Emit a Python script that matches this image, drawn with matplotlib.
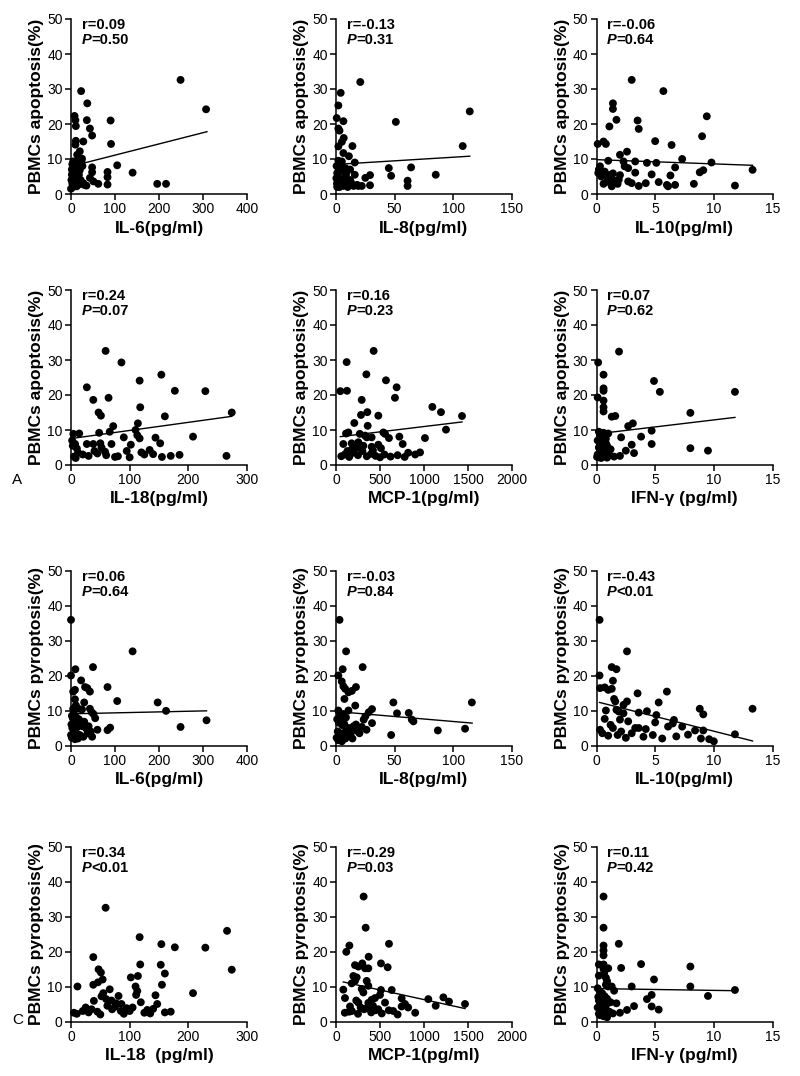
import matplotlib
matplotlib.use("Agg")
import matplotlib.pyplot as plt

plt.rcParams['font.family'] = ['Liberation Sans', 'DejaVu Sans']

# ---------------- data ----------------
# Row 1: PBMCs apoptosis vs IL-6 / IL-8 / IL-10
il6_apo_x = [249, 307, 23, 37, 8, 10, 36, 90, 11, 43, 48, 11, 10, 28, 91, 20, 14, 25, 5, 15, 24, 3, 16, 26, 48, 105, 140, 83, 83, 83, 48, 43, 51, 62, 196, 216, 2, 4, 6, 8, 12, 18, 22, 28, 1, 3, 7, 9, 13, 19, 30, 35, 2, 5, 10, 15, 0, 20]
il6_apo_y = [32.6, 24.2, 29.4, 25.9, 22.3, 21.1, 21.1, 21.0, 19.4, 18.7, 16.7, 15.2, 14.1, 15.0, 14.3, 12.2, 11.2, 10.1, 9.3, 9.3, 9.3, 8.5, 7.4, 8.0, 7.6, 8.2, 6.1, 6.3, 4.8, 2.7, 6.2, 4.6, 3.6, 2.9, 2.9, 2.9, 7.0, 6.0, 5.2, 4.5, 6.6, 5.5, 4.0, 3.1, 4.0, 3.0, 2.5, 3.5, 2.2, 2.8, 2.6, 2.4, 5.5, 2.0, 7.8, 3.6, 1.5, 6.8]
il8_apo_x = [20.7, 4, 2, 0.6, 6.3, 51, 2, 3, 114, 108, 6.6, 5, 2, 14, 6.3, 11, 2, 5, 16, 45, 64, 47, 85, 61, 61, 8, 12, 3.5, 8.5, 16, 25, 29, 29, 22, 19, 2, 6, 10, 15, 1, 3, 1.5, 4, 7, 9, 12, 0.5, 1, 2.5, 5, 3, 10, 0.8, 7, 18, 0.3, 4.5, 13]
il8_apo_y = [32.0, 28.9, 25.3, 21.7, 20.8, 20.6, 18.7, 18.1, 23.6, 13.7, 16.0, 14.9, 13.6, 13.7, 11.7, 10.8, 9.5, 9.3, 9.0, 7.4, 7.6, 5.2, 5.5, 3.8, 2.3, 7.4, 7.0, 6.5, 5.5, 5.5, 4.6, 5.4, 2.5, 2.3, 2.3, 2.6, 2.3, 2.0, 2.3, 2.0, 3.5, 5.0, 4.2, 3.0, 6.5, 4.0, 8.0, 6.0, 7.6, 6.8, 2.0, 2.3, 3.0, 4.5, 2.6, 4.5, 8.2, 3.2]
il10_apo_x = [3.0, 5.7, 1.4, 1.4, 1.7, 3.5, 3.6, 9.4, 1.1, 9.0, 5.0, 0.1, 0.6, 0.8, 6.4, 2.6, 2.0, 1.0, 3.3, 4.3, 5.1, 7.3, 9.8, 2.3, 2.4, 2.7, 0.3, 6.7, 13.3, 9.1, 8.8, 3.3, 4.7, 6.3, 0.7, 1.1, 1.4, 0.15, 0.4, 1.0, 1.4, 1.9, 2.0, 0.6, 1.3, 1.8, 2.7, 3.0, 3.6, 4.2, 5.3, 6.0, 6.1, 6.7, 8.3, 11.8, 0.2, 0.9]
il10_apo_y = [32.6, 29.4, 25.9, 24.3, 21.2, 21.0, 18.6, 22.2, 19.3, 16.5, 15.1, 14.3, 15.0, 14.3, 14.0, 12.1, 11.2, 9.5, 9.3, 8.9, 8.9, 10.0, 9.0, 9.3, 7.9, 7.4, 7.9, 7.6, 6.9, 6.8, 6.2, 6.1, 5.6, 5.3, 6.4, 5.4, 5.9, 6.0, 5.0, 4.6, 4.1, 4.1, 5.4, 2.9, 2.2, 2.9, 3.6, 3.1, 2.3, 3.1, 3.4, 2.6, 2.2, 2.6, 2.9, 2.4, 7.0, 3.5]

# Row 2: PBMCs apoptosis vs IL-18 / MCP-1 / IFN-γ
il18_apo_x = [59, 86, 154, 117, 27, 177, 229, 38, 64, 118, 47, 51, 274, 160, 72, 114, 66, 110, 113, 117, 48, 4, 14, 90, 144, 208, 7, 10, 27, 38, 50, 52, 69, 102, 152, 134, 265, 5, 20, 30, 60, 80, 100, 125, 155, 170, 2, 12, 40, 45, 58, 75, 95, 120, 140, 8, 3, 185]
il18_apo_y = [32.6, 29.3, 25.8, 24.1, 22.2, 21.2, 21.1, 18.6, 19.2, 16.5, 15.0, 14.1, 15.0, 13.9, 11.1, 11.9, 9.5, 10.0, 8.5, 7.6, 9.2, 8.9, 9.0, 7.9, 7.8, 8.1, 6.0, 4.7, 6.0, 6.0, 6.2, 5.0, 6.0, 5.8, 6.2, 4.3, 2.6, 2.4, 3.0, 2.6, 2.8, 2.5, 2.2, 3.0, 2.3, 2.6, 7.0, 3.5, 4.0, 3.3, 3.8, 2.3, 4.0, 3.6, 3.1, 2.0, 5.5, 2.9]
mcp_apo_x = [428, 121, 345, 568, 689, 49, 125, 670, 292, 1095, 1193, 356, 284, 481, 1432, 208, 360, 1250, 140, 114, 538, 557, 270, 330, 350, 405, 602, 720, 1011, 758, 83, 178, 254, 311, 405, 481, 511, 955, 60, 100, 150, 200, 250, 300, 350, 400, 450, 500, 550, 620, 700, 780, 820, 180, 240, 420, 130, 900]
mcp_apo_y = [32.6, 29.4, 25.9, 24.2, 22.2, 21.1, 21.2, 19.2, 18.6, 16.6, 15.1, 15.1, 14.3, 14.1, 14.0, 12.0, 11.2, 10.1, 9.3, 9.0, 9.3, 8.9, 8.9, 8.4, 7.9, 7.9, 7.7, 8.1, 7.7, 6.0, 6.0, 6.2, 6.5, 5.5, 5.2, 5.8, 4.8, 3.6, 2.5, 3.0, 2.3, 3.5, 2.8, 4.0, 2.5, 3.2, 2.6, 2.2, 3.0, 2.4, 2.8, 2.3, 3.5, 4.5, 5.0, 4.2, 4.0, 3.0]
ifn_apo_x = [1.92, 0.14, 0.6, 4.9, 0.6, 0.6, 5.4, 11.8, 0.1, 0.6, 0.6, 0.6, 8.0, 1.3, 1.6, 2.7, 3.1, 4.7, 0.2, 0.6, 1.0, 0.35, 0.8, 2.1, 3.8, 3.0, 4.7, 2.5, 3.2, 8.0, 9.5, 0.1, 0.3, 0.5, 0.7, 0.9, 0.2, 0.4, 0.6, 0.8, 1.0, 0.1, 0.3, 0.5, 0.7, 1.1, 0.2, 0.4, 0.6, 0.9, 1.5, 2.0, 0.3, 0.5, 0.8, 1.2, 0.05, 0.45]
ifn_apo_y = [32.4, 29.3, 25.8, 24.0, 21.9, 21.2, 20.9, 20.9, 19.3, 18.4, 16.5, 15.3, 14.9, 13.8, 14.0, 11.1, 11.9, 9.8, 9.5, 9.2, 9.0, 8.0, 7.5, 7.9, 8.1, 5.8, 6.0, 4.1, 3.4, 4.8, 4.1, 7.0, 6.5, 6.0, 6.8, 5.5, 5.0, 4.5, 5.2, 4.0, 3.5, 3.0, 3.8, 3.2, 2.5, 2.8, 2.2, 2.0, 2.5, 2.1, 2.4, 2.6, 8.6, 7.2, 6.2, 4.5, 2.3, 3.6]

# Row 3: PBMCs pyroptosis vs IL-6 / IL-8 / IL-10
il6_pyr_x = [0, 140, 50, 10, 0, 23, 32, 37, 83, 9, 5, 43, 9, 30, 105, 197, 216, 5, 17, 25, 43, 47, 51, 308, 249, 89, 83, 2, 4, 6, 8, 12, 15, 18, 22, 26, 30, 35, 40, 45, 1, 3, 7, 10, 14, 20, 28, 38, 48, 60, 2, 5, 9, 13, 16, 0, 11, 55]
il6_pyr_y = [35.9, 26.9, 22.4, 21.8, 20.0, 18.6, 16.7, 16.4, 16.7, 15.9, 15.4, 15.4, 13.2, 12.3, 12.7, 12.3, 9.9, 10.5, 10.5, 10.3, 10.5, 9.5, 9.0, 7.2, 5.3, 5.1, 4.4, 8.5, 7.8, 9.0, 7.2, 8.0, 6.5, 7.5, 6.0, 5.5, 6.8, 4.8, 5.5, 4.0, 6.0, 5.0, 4.5, 3.8, 5.2, 3.0, 2.5, 3.5, 2.5, 4.5, 2.2, 2.5, 1.8, 3.2, 2.0, 3.0, 11.5, 7.8]
il8_pyr_x = [3, 8.6, 22.7, 5.7, 2, 4.9, 6.3, 7.8, 17, 13.5, 10.6, 7.2, 16.4, 48.9, 115.8, 52, 62, 64.6, 66, 30.7, 27.9, 25, 23.6, 30.7, 2, 3.5, 6.3, 10.6, 86.8, 110, 47, 1, 2.5, 4, 5.5, 7, 9, 11, 13, 15, 18, 20, 1.5, 3, 4.5, 6, 8, 10, 12, 14, 0.5, 2, 3.5, 5, 17, 22, 8.5, 26]
il8_pyr_y = [35.9, 26.9, 22.4, 21.8, 20.0, 18.3, 16.9, 16.2, 16.7, 15.6, 15.2, 13.3, 11.4, 12.3, 12.3, 9.2, 9.3, 7.4, 6.9, 10.4, 9.5, 8.3, 7.4, 6.4, 10.0, 8.6, 9.0, 10.0, 4.3, 4.8, 3.0, 7.5, 6.5, 7.0, 5.8, 6.2, 4.5, 5.0, 3.8, 5.5, 4.2, 3.5, 4.0, 3.0, 2.5, 3.5, 2.0, 2.8, 3.2, 2.0, 2.2, 1.5, 1.8, 1.2, 6.0, 5.3, 8.0, 4.5]
il10_pyr_x = [0.26, 2.6, 1.3, 1.7, 0.26, 1.4, 0.3, 0.7, 1.0, 1.3, 6.0, 3.5, 1.5, 1.6, 2.6, 5.3, 2.3, 8.8, 9.1, 13.3, 0.8, 1.7, 1.9, 2.3, 3.6, 4.3, 5.1, 5.0, 6.6, 6.5, 0.7, 2.0, 2.7, 6.1, 7.3, 1.2, 1.4, 3.3, 3.6, 4.2, 8.4, 9.1, 11.8, 0.5, 1.0, 1.8, 2.5, 3.0, 4.0, 4.8, 5.6, 6.8, 7.8, 9.6, 10.0, 0.3, 2.1, 8.9]
il10_pyr_y = [35.9, 26.9, 22.4, 21.8, 20.0, 18.5, 16.4, 16.6, 15.9, 16.2, 15.4, 14.9, 13.3, 12.6, 12.6, 12.3, 11.6, 10.5, 8.9, 10.5, 10.0, 10.2, 9.7, 9.2, 9.4, 9.8, 8.7, 6.6, 7.3, 6.3, 7.6, 7.4, 6.9, 5.4, 5.4, 5.9, 5.0, 5.0, 5.0, 4.7, 4.3, 4.3, 3.2, 3.5, 2.8, 3.0, 2.2, 3.5, 2.5, 3.0, 2.0, 2.6, 3.1, 1.8, 1.2, 4.5, 4.0, 2.0]

# Row 4: PBMCs pyroptosis vs IL-18 / MCP-1 / IFN-γ
il18_pyr_x = [59, 117, 266, 154, 177, 229, 38, 118, 153, 47, 51, 274, 160, 102, 114, 38, 46, 54, 11, 155, 66, 55, 52, 110, 113, 111, 81, 144, 208, 60, 69, 77, 86, 39, 119, 147, 5, 20, 30, 45, 70, 90, 100, 125, 135, 170, 25, 35, 62, 75, 95, 105, 130, 160, 10, 50, 85, 140]
il18_pyr_y = [32.5, 24.1, 25.9, 22.1, 21.2, 21.1, 18.4, 16.3, 16.2, 14.9, 14.0, 14.8, 13.7, 12.6, 13.0, 10.5, 11.2, 12.0, 10.0, 10.5, 9.2, 8.1, 7.2, 10.0, 8.7, 7.6, 7.3, 7.5, 8.1, 6.4, 6.0, 5.2, 5.0, 5.9, 5.5, 5.0, 2.5, 3.0, 2.6, 2.8, 3.5, 2.2, 3.0, 2.5, 2.3, 2.8, 4.0, 3.5, 4.5, 4.2, 3.8, 4.0, 3.3, 2.6, 2.2, 2.0, 3.0, 3.6]
mcp_pyr_x = [314, 337, 152, 117, 602, 371, 216, 254, 299, 330, 367, 511, 587, 197, 235, 216, 178, 349, 367, 292, 311, 83, 102, 511, 633, 500, 443, 405, 367, 746, 784, 746, 1049, 1220, 1284, 1466, 1133, 557, 254, 159, 100, 180, 250, 320, 400, 450, 520, 650, 700, 900, 280, 350, 420, 480, 600, 150, 230, 820]
mcp_pyr_y = [35.7, 26.8, 21.7, 19.9, 22.2, 18.5, 16.1, 15.7, 16.6, 15.2, 15.2, 16.6, 15.5, 13.0, 12.6, 11.6, 10.9, 11.6, 10.2, 9.3, 8.3, 9.1, 6.7, 9.0, 9.0, 7.6, 6.7, 6.2, 5.3, 6.6, 5.0, 4.3, 6.4, 6.9, 5.7, 5.0, 4.5, 5.4, 5.4, 4.3, 2.5, 3.0, 2.2, 3.5, 2.6, 3.2, 2.3, 3.0, 2.0, 2.5, 4.0, 3.8, 4.5, 3.5, 3.2, 2.8, 6.0, 4.0]
ifn_pyr_x = [0.6, 0.6, 1.9, 0.6, 0.6, 0.6, 0.2, 0.6, 1.0, 0.6, 2.1, 3.8, 8.0, 0.2, 4.9, 0.9, 0.8, 1.0, 1.3, 3.0, 8.0, 11.8, 9.5, 4.7, 4.3, 1.2, 1.7, 3.2, 4.7, 5.3, 2.6, 0.1, 0.3, 0.5, 0.7, 0.9, 0.2, 0.4, 0.6, 0.8, 0.1, 0.3, 0.5, 0.7, 1.1, 0.2, 0.4, 0.6, 0.9, 1.4, 0.3, 0.5, 0.8, 0.15, 0.45, 0.65, 2.0, 1.5]
ifn_pyr_y = [35.7, 26.8, 22.2, 21.7, 20.3, 18.9, 16.3, 16.3, 15.2, 15.0, 15.3, 16.4, 15.7, 13.1, 12.0, 11.5, 10.5, 10.0, 10.0, 10.0, 10.0, 9.0, 7.3, 7.6, 6.4, 5.5, 5.2, 4.4, 4.3, 3.4, 3.3, 9.5, 8.5, 8.0, 7.2, 6.5, 6.0, 5.5, 5.0, 4.5, 4.0, 3.5, 3.0, 2.5, 2.8, 2.2, 2.0, 1.5, 1.2, 2.3, 1.8, 3.8, 12.5, 7.0, 6.8, 13.8, 2.5, 8.8]

# Regression lines: (x_start, y_start, x_end, y_end); None = no line shown
fit_lines = [
    (0, 7.9, 309, 17.8), (0, 8.45, 114, 10.8), (0.1, 9.8, 13.3, 8.2),
    (2, 7.6, 274, 13.9), (49, 8.1, 1432, 12.3), (0.05, 8.9, 11.8, 13.6),
    (0, 9.05, 308, 9.9), (0.5, 9.7, 116, 6.4), (0.26, 12.3, 13.3, 1.3),
    None, (83, 11.3, 1466, 3.7), (0.1, 9.4, 11.8, 8.8),
]

r_texts = ["r=0.09", "r=-0.13", "r=-0.06", "r=0.24", "r=0.16", "r=0.07",
           "r=0.06", "r=-0.03", "r=-0.43", "r=0.34", "r=-0.29", "r=0.11"]
p_texts = ["=0.50", "=0.31", "=0.64", "=0.07", "=0.23", "=0.62",
           "=0.64", "=0.84", "<0.01", "<0.01", "=0.03", "=0.42"]

x_labels = ["IL-6(pg/ml)", "IL-8(pg/ml)", "IL-10(pg/ml)",
            "IL-18(pg/ml)", "MCP-1(pg/ml)", "IFN-γ (pg/ml)",
            "IL-6(pg/ml)", "IL-8(pg/ml)", "IL-10(pg/ml)",
            "IL-18  (pg/ml)", "MCP-1(pg/ml)", "IFN-γ (pg/ml)"]
y_labels = ["PBMCs apoptosis(%)"] * 6 + ["PBMCs pyroptosis(%)"] * 6

x_ticks = [[0, 100, 200, 300, 400], [0, 50, 100, 150], [0, 5, 10, 15],
           [0, 100, 200, 300], [0, 500, 1000, 1500, 2000], [0, 5, 10, 15]] * 2
y_ticks = [0, 10, 20, 30, 40, 50]

xs = [il6_apo_x, il8_apo_x, il10_apo_x, il18_apo_x, mcp_apo_x, ifn_apo_x,
      il6_pyr_x, il8_pyr_x, il10_pyr_x, il18_pyr_x, mcp_pyr_x, ifn_pyr_x]
ys = [il6_apo_y, il8_apo_y, il10_apo_y, il18_apo_y, mcp_apo_y, ifn_apo_y,
      il6_pyr_y, il8_pyr_y, il10_pyr_y, il18_pyr_y, mcp_pyr_y, ifn_pyr_y]

# ---------------- layout ----------------
W, H = 800, 1076
fig = plt.figure(figsize=(W / 100, H / 100), dpi=100)
col_left = [71, 336, 596.5]
row_bottom = [194, 465, 745.5, 1021.5]
ax_w, ax_h = 176, 175

for i in range(12):
    r, c = divmod(i, 3)
    ax = fig.add_axes([col_left[c] / W, 1 - row_bottom[r] / H, ax_w / W, ax_h / H])
    n = min(len(xs[i]), len(ys[i]))
    ax.scatter(xs[i][:n], ys[i][:n], s=32, color='black', edgecolors='none',
               zorder=3, clip_on=False)
    fl = fit_lines[i]
    if fl is not None:
        ax.plot([fl[0], fl[2]], [fl[1], fl[3]], color='black', lw=1.0, zorder=2)
    xt = x_ticks[i]
    ax.set_xlim(xt[0], xt[-1])
    ax.set_ylim(0, 50)
    ax.set_xticks(xt)
    ax.set_yticks(y_ticks)
    for s in ['top', 'right']:
        ax.spines[s].set_visible(False)
    for s in ['left', 'bottom']:
        ax.spines[s].set_linewidth(1.1)
    ax.tick_params(direction='out', length=4, width=1.1, labelsize=10, pad=2)
    ax.set_xlabel(x_labels[i], fontsize=12.5, fontweight='bold', labelpad=3)
    ax.set_ylabel(y_labels[i], fontsize=12.5, fontweight='bold', labelpad=2)
    ax.text(0.06, 0.965, r_texts[i], transform=ax.transAxes, fontsize=10.5,
            fontweight='bold', va='center', ha='left')
    tp = ax.text(0.06, 0.88, "P", transform=ax.transAxes, fontsize=10.5,
                 fontweight='bold', fontstyle='italic', va='center', ha='left')
    ax.annotate(p_texts[i], xy=(1, 0), xycoords=tp, fontsize=10.5,
                fontweight='bold', va='bottom', ha='left')

fig.text(12 / W, 1 - 480 / H, "A", fontsize=11, ha='left', va='center')
fig.text(12 / W, 1 - 1020 / H, "C", fontsize=11, ha='left', va='center')

fig.savefig("out.png", dpi=100)
